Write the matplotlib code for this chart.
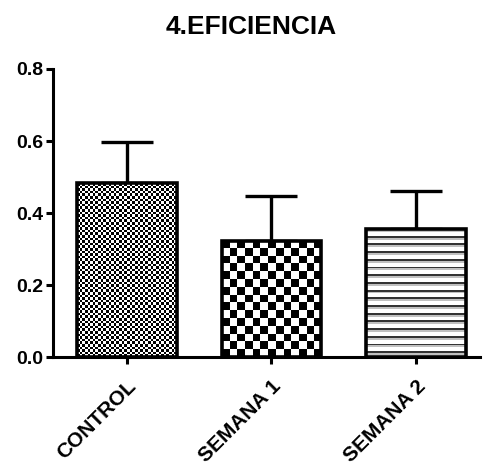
import numpy as np
import matplotlib
matplotlib.use("Agg")
import matplotlib.pyplot as plt

# datos
grupos = ["CONTROL", "SEMANA 1", "SEMANA 2"]
medias = [0.483, 0.323, 0.356]
errores = [0.114, 0.123, 0.104]

plt.rcParams['font.family'] = ['Liberation Sans', 'DejaVu Sans']
plt.rcParams['font.weight'] = 'bold'

fig = plt.figure(figsize=(4.84, 4.68), dpi=100)
ax = fig.add_axes([0.1095, 0.237, 0.8825, 0.6156])

x = np.arange(len(grupos))
barras = ax.bar(x, medias, width=0.69, facecolor='none', edgecolor='black',
                linewidth=2.6, zorder=3)
ax.errorbar(x, medias, yerr=[np.zeros(len(errores)), errores], fmt='none',
            ecolor='black', elinewidth=2.4, capsize=18.5, capthick=2.4, zorder=1)

ax.set_xlim(-0.508, 2.44)
ax.set_ylim(0, 0.8)

# patrones de relleno (tamano de celda en pixeles)
def patron(tipo, nfil, ncol):
    if tipo == 'cuadros':
        i, j = np.indices((nfil, ncol))
        return ((i + j) % 2).astype(float)
    filas = np.ones((nfil, ncol))
    filas[::4, :] = 0.2
    filas[1::4, :] = 0.75
    return filas

estilos = [('cuadros', 2.6), ('cuadros', 7.6), ('rayas', 1.9)]
px_x = ax.transData.transform((1, 0))[0] - ax.transData.transform((0, 0))[0]
px_y = ax.transData.transform((0, 1))[1] - ax.transData.transform((0, 0))[1]
for b, (tipo, celda) in zip(barras, estilos):
    x0, ancho, alto = b.get_x(), b.get_width(), b.get_height()
    ncol = max(1, int(round(ancho * px_x / celda)))
    nfil = max(1, int(round(alto * px_y / celda)))
    img = patron(tipo, nfil, ncol)
    im = ax.imshow(img, cmap='gray', vmin=0, vmax=1, interpolation='nearest',
                   extent=(x0, x0 + ancho, 0, alto), origin='upper',
                   aspect='auto', zorder=2)
    im.set_clip_path(b)

ax.set_xlim(-0.508, 2.44)
ax.set_ylim(0, 0.8)

ax.spines['top'].set_visible(False)
ax.spines['right'].set_visible(False)
ax.spines['left'].set_linewidth(2.2)
ax.spines['bottom'].set_linewidth(2.2)

ax.set_yticks([0.0, 0.2, 0.4, 0.6, 0.8])
ax.set_yticklabels(["0.0", "0.2", "0.4", "0.6", "0.8"], fontsize=14, fontweight='bold')
ax.set_xticks(x)
ax.set_xticklabels(grupos, fontsize=15, fontweight='bold', rotation=45,
                   ha='right', va='top', rotation_mode='anchor')
ax.tick_params(axis='both', direction='out', length=5, width=2.2, pad=2)
ax.tick_params(axis='x', pad=9)

fig.text(0.519, 0.943, "4.EFICIENCIA", ha='center', va='center',
         fontsize=19, fontweight='bold')

fig.savefig("out.png", dpi=100)
